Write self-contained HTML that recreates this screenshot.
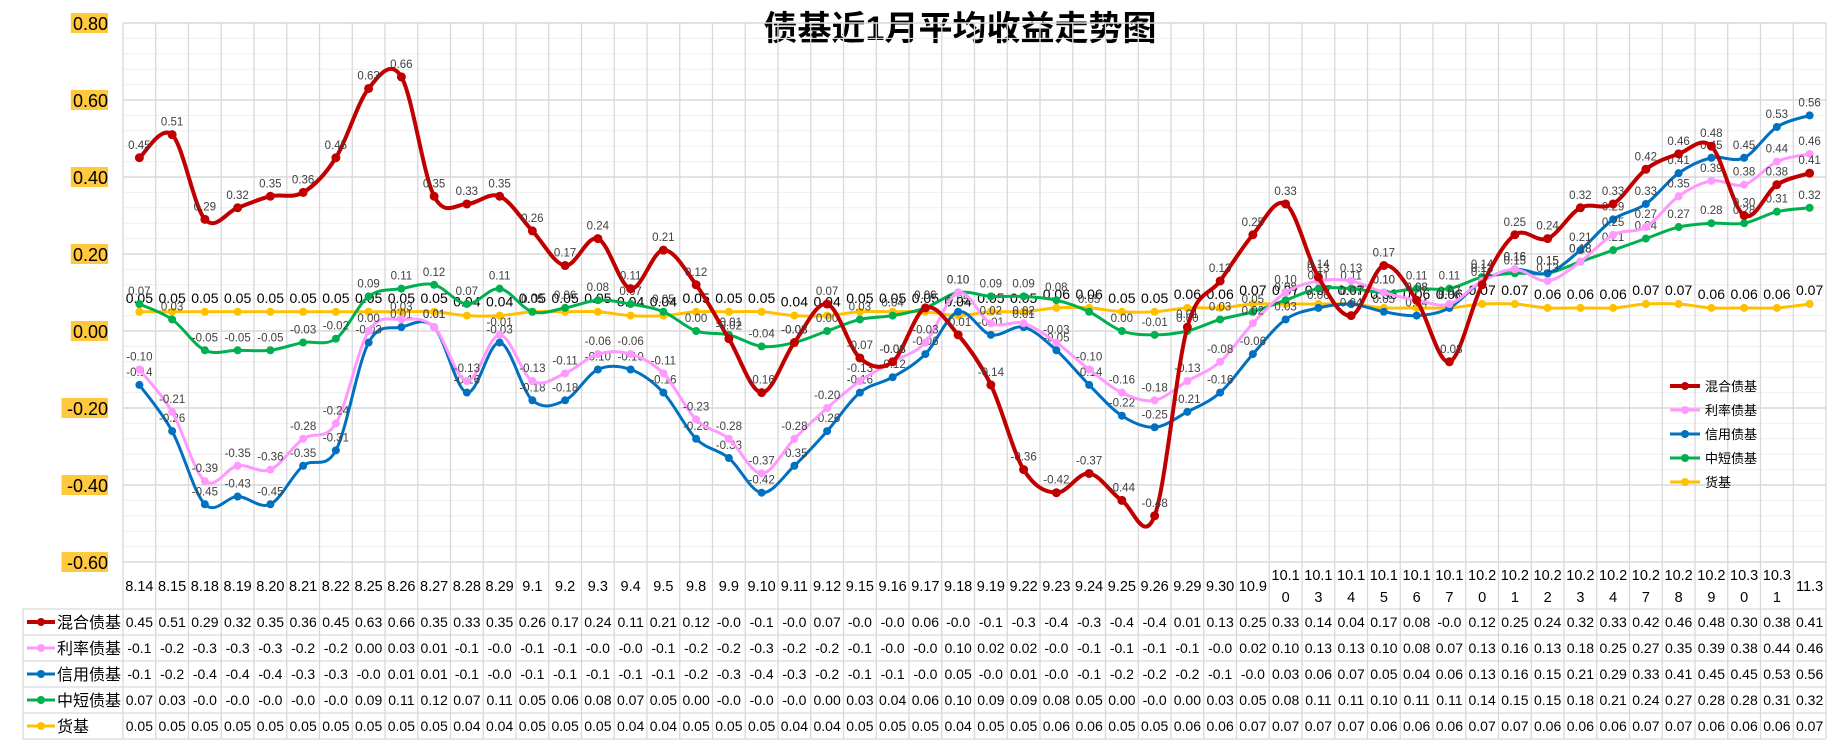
<!DOCTYPE html>
<html><head><meta charset="utf-8"><style>
body{margin:0;background:#fff;}
svg{display:block;font-family:"Liberation Sans","Noto Sans CJK SC",sans-serif;}
</style></head><body>
<svg id="c" width="1838" height="744" xmlns="http://www.w3.org/2000/svg"></svg>
<script>
const categories=["8.14","8.15","8.18","8.19","8.20","8.21","8.22","8.25","8.26","8.27","8.28","8.29","9.1","9.2","9.3","9.4","9.5","9.8","9.9","9.10","9.11","9.12","9.15","9.16","9.17","9.18","9.19","9.22","9.23","9.24","9.25","9.26","9.29","9.30","10.9","10.10","10.13","10.14","10.15","10.16","10.17","10.20","10.21","10.22","10.23","10.24","10.27","10.28","10.29","10.30","10.31","11.3"];
const seriesNames=["混合债基","利率债基","信用债基","中短债基","货基"];
const hunhe=[0.45,0.51,0.29,0.32,0.35,0.36,0.45,0.63,0.66,0.35,0.33,0.35,0.26,0.17,0.24,0.11,0.21,0.12,-0.02,-0.16,-0.03,0.07,-0.07,-0.08,0.06,-0.01,-0.14,-0.36,-0.42,-0.37,-0.44,-0.48,0.01,0.13,0.25,0.33,0.14,0.04,0.17,0.08,-0.08,0.12,0.25,0.24,0.32,0.33,0.42,0.46,0.48,0.30,0.38,0.41];
const lilv=[-0.10,-0.21,-0.39,-0.35,-0.36,-0.28,-0.24,0.00,0.03,0.01,-0.13,-0.01,-0.13,-0.11,-0.06,-0.06,-0.11,-0.23,-0.28,-0.37,-0.28,-0.20,-0.13,-0.08,-0.03,0.10,0.02,0.02,-0.03,-0.10,-0.16,-0.18,-0.13,-0.08,0.02,0.10,0.13,0.13,0.10,0.08,0.07,0.13,0.16,0.13,0.18,0.25,0.27,0.35,0.39,0.38,0.44,0.46];
const xinyong=[-0.14,-0.26,-0.45,-0.43,-0.45,-0.35,-0.31,-0.03,0.01,0.01,-0.16,-0.03,-0.18,-0.18,-0.10,-0.10,-0.16,-0.28,-0.33,-0.42,-0.35,-0.26,-0.16,-0.12,-0.06,0.05,-0.01,0.01,-0.05,-0.14,-0.22,-0.25,-0.21,-0.16,-0.06,0.03,0.06,0.07,0.05,0.04,0.06,0.13,0.16,0.15,0.21,0.29,0.33,0.41,0.45,0.45,0.53,0.56];
const zhongduan=[0.07,0.03,-0.05,-0.05,-0.05,-0.03,-0.02,0.09,0.11,0.12,0.07,0.11,0.05,0.06,0.08,0.07,0.05,0.00,-0.01,-0.04,-0.03,0.00,0.03,0.04,0.06,0.10,0.09,0.09,0.08,0.05,0.00,-0.01,0.00,0.03,0.05,0.08,0.11,0.11,0.10,0.11,0.11,0.14,0.15,0.15,0.18,0.21,0.24,0.27,0.28,0.28,0.31,0.32];
const huoji=[0.05,0.05,0.05,0.05,0.05,0.05,0.05,0.05,0.05,0.05,0.04,0.04,0.05,0.05,0.05,0.04,0.04,0.05,0.05,0.05,0.04,0.04,0.05,0.05,0.05,0.04,0.05,0.05,0.06,0.06,0.05,0.05,0.06,0.06,0.07,0.07,0.07,0.07,0.06,0.06,0.06,0.07,0.07,0.06,0.06,0.06,0.07,0.07,0.06,0.06,0.06,0.07];
const yTicks=[0.8,0.6,0.4,0.2,0,-0.2,-0.4,-0.6];
const colors=["#C00000","#FF99FF","#0070C0","#00B050","#FFC000"];
const widths=[4,3,3,3,3];
const allData=[hunhe,lilv,xinyong,zhongduan,huoji];

const NS="http://www.w3.org/2000/svg";
const svg=document.getElementById('c');
const L=123,CW=32.75,T=23,B=562,YMAX=0.8,YMIN=-0.6;
function xs(i){return L+CW*(i+0.5);}
function ys(v){return T+(YMAX-v)/(YMAX-YMIN)*(B-T);}
function mk(tag,attrs,parent){const e=document.createElementNS(NS,tag);for(const k in attrs)e.setAttribute(k,attrs[k]);(parent||svg).appendChild(e);return e;}
function fmt(v){return v.toFixed(2);}
function cellFmt(v){let s=v.toFixed(2);if(s==="-0.00")s="-0.0";if(v<0)s=s.slice(0,4);return s;}

// title
const title=mk('text',{x:960,y:40,'text-anchor':'middle','font-size':34,'font-weight':'bold',fill:'#000'});
title.textContent="债基近1月平均收益走势图";



// grid
const grid=mk('g',{});


for(let v=YMIN;v<=YMAX+1e-9;v+=0.04){
  const major=Math.abs(Math.round(v*100)%20)===0;
  mk('line',{x1:L,x2:L+CW*categories.length,y1:ys(v),y2:ys(v),stroke:major?'#d9d9d9':'#efefef','stroke-width':major?1.5:1},grid);
}
for(let i=0;i<=categories.length;i++){
  mk('line',{x1:L+CW*i,x2:L+CW*i,y1:T,y2:739,stroke:'#d9d9d9','stroke-width':1.3},grid);
}
// table horizontal lines
const rowY=[609,635,661,687,713,739];
for(const y of rowY){mk('line',{x1:23,x2:L+CW*categories.length,y1:y,y2:y,stroke:'#d9d9d9','stroke-width':1.3},grid);}
mk('line',{x1:23,x2:23,y1:609,y2:739,stroke:'#d9d9d9','stroke-width':1.3},grid);

// y ticks
yTicks.forEach(v=>{
  const y=ys(v);const s=v.toFixed(2);
  const w=s.length*9.3;
  const r=mk('rect',{x:108-w,y:y-10,width:w,height:20,fill:'#FFC83D'});
  
  
  const t=mk('text',{x:108,y:y+7,'text-anchor':'end','font-size':18,fill:'#000'});
  t.textContent=s;
  
  
});

// category labels
categories.forEach((c,i)=>{
  const t=mk('text',{x:xs(i),'text-anchor':'middle','font-size':14.5,fill:'#000'});
  
  
  if(c.length>4){
    t.setAttribute('y',580);
    const a=mk('tspan',{x:xs(i)},t);a.textContent=c.slice(0,4);
    const b=mk('tspan',{x:xs(i),dy:22},t);b.textContent=c.slice(4);
  }else{t.setAttribute('y',591);t.textContent=c;}
});

// series
function pathFor(d){
  const p=d.map((v,i)=>[xs(i),ys(v)]);
  let s=`M${p[0][0]},${p[0][1]}`;
  for(let i=0;i<p.length-1;i++){
    const p0=p[Math.max(0,i-1)],p1=p[i],p2=p[i+1],p3=p[Math.min(p.length-1,i+2)];
    const c1=[p1[0]+(p2[0]-p0[0])/6,p1[1]+(p2[1]-p0[1])/6];
    const c2=[p2[0]-(p3[0]-p1[0])/6,p2[1]-(p3[1]-p1[1])/6];
    s+=`C${c1[0]},${c1[1]} ${c2[0]},${c2[1]} ${p2[0]},${p2[1]}`;
  }
  return s;
}
const order=[4,3,2,1,0];
order.forEach(k=>{
  const d=allData[k];
  const g=mk('g',{});
  
  
  const path=mk('path',{d:pathFor(d),fill:'none',stroke:colors[k],'stroke-width':widths[k]},g);
  
  
  d.forEach((v,i)=>{
    const c=mk('circle',{cx:xs(i),cy:ys(v),r:k===0?4.5:4,fill:colors[k]},g);
    
    
    const t=mk('text',{x:xs(i),y:ys(v)-9,'text-anchor':'middle','font-size':k===4?14:11.5,fill:k===4?'#000':'#404040'},g);
    t.textContent=fmt(v);
    
    
  });
});

// legend in plot
seriesNames.forEach((n,k)=>{
  const y=386+k*24;
  const g=mk('g',{});
  
  
  mk('line',{x1:1670,x2:1700,y1:y,y2:y,stroke:colors[k],'stroke-width':widths[k]},g);
  mk('circle',{cx:1685,cy:y,r:4,fill:colors[k]},g);
  const t=mk('text',{x:1705,y:y+5,'font-size':13,fill:'#000'},g);t.textContent=n;
});

// table rows
seriesNames.forEach((n,k)=>{
  const y=rowY[k]+13;
  const g=mk('g',{});
  
  
  mk('line',{x1:27,x2:55,y1:y,y2:y,stroke:colors[k],'stroke-width':widths[k]},g);
  mk('circle',{cx:41,cy:y,r:4,fill:colors[k]},g);
  const t=mk('text',{x:57,y:y+6,'font-size':16,fill:'#000'},g);t.textContent=n;
  allData[k].forEach((v,i)=>{
    const c=mk('text',{x:xs(i),y:y+5,'text-anchor':'middle','font-size':14,fill:'#000'},g);
    c.textContent=cellFmt(v);
  });
});
</script>
</body></html>
